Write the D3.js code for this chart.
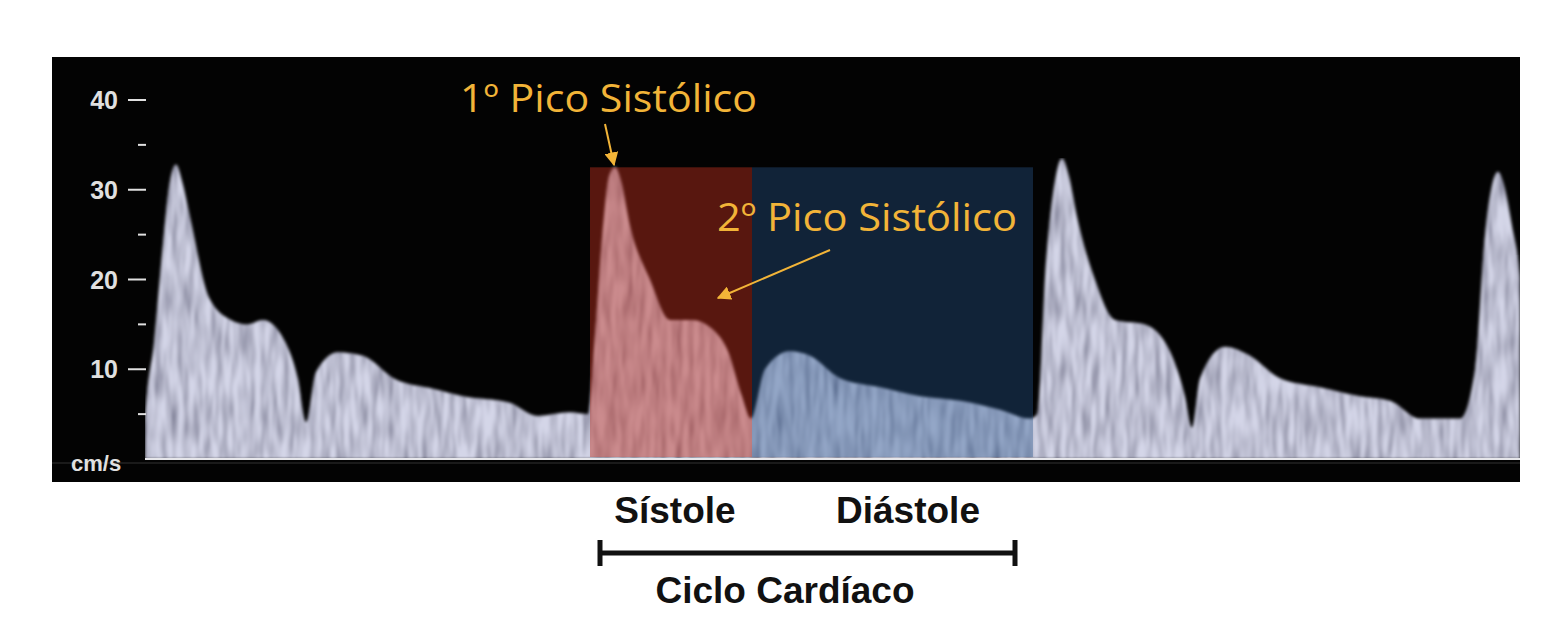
<!DOCTYPE html>
<html><head><meta charset="utf-8">
<script src="https://cdn.jsdelivr.net/npm/d3@7"></script>
<style>
  body { margin: 0; background: #fff; }
  svg { display: block; font-family: "Liberation Sans", Arial, sans-serif; }
</style></head>
<body><svg id="chart" width="1560" height="626"></svg>
<script>
// velocity envelope: [time (px units from panel left), cm/s]
const envelope = [
  [93, 0], [93, 4.4], [102, 13], [111, 24], [118, 31], [124, 32.8], [130, 31], [138, 27], [157, 18], [179, 15.5],
  [195, 15], [211, 15.5], [232, 13.3], [246, 8.9], [254, 4.1], [264, 9.7], [286, 11.9],
  [311, 11.5], [343, 8.9], [382, 7.8], [411, 7], [457, 6.3], [486, 4.8], [518, 5.2],
  [536, 5], [543, 14], [551, 26], [557, 31.5], [563, 32.5], [569, 31], [578, 26], [598, 20], [618, 15.5],
  [640, 15.5], [660, 14.5], [676, 12], [690, 7], [699, 4.5], [713, 10], [738, 12],
  [758, 11.5], [788, 9], [828, 8], [868, 7], [908, 6.5], [948, 5.5], [978, 4.5],
  [985, 5], [994, 22], [1003, 31], [1010, 33.5], [1017, 31.5], [1025, 27], [1043, 20], [1063, 15.5], [1093, 15],
  [1118, 12], [1133, 7], [1140, 3.5], [1148, 9], [1173, 12.5], [1198, 11.5], [1228, 9],
  [1268, 8], [1308, 7], [1338, 6.5], [1368, 4.5], [1408, 4.5], [1423, 10], [1433, 25],
  [1440, 30.5], [1446, 32], [1452, 30.5], [1460, 26], [1468, 20], [1468, 0]
];
const majorTicks = [10, 20, 30, 40];
const minorTicks = [5, 15, 25, 35];
const phases = [
  { name: "Sístole", start: 538, end: 700, color: "#c03020", opacity: 0.45, labelX: 675 },
  { name: "Diástole", start: 700, end: 981, color: "#2a5a90", opacity: 0.38, labelX: 908 }
];
const phaseTop = 32.5;

const svg = d3.select("#chart");
const panel = { left: 52, top: 57, right: 1520, bottom: 482 };

const x = d3.scaleLinear().domain([0, 1468]).range([panel.left, panel.right]);
const y = d3.scaleLinear().domain([0, 40]).range([459, 100]);

const defs = svg.append("defs");
const f = defs.append("filter").attr("id", "speckle")
  .attr("x", 0).attr("y", 0).attr("width", 1).attr("height", 1);
f.append("feTurbulence").attr("type", "fractalNoise")
  .attr("baseFrequency", "0.18 0.025").attr("numOctaves", 2).attr("seed", 4).attr("result", "noise");
f.append("feColorMatrix").attr("in", "noise").attr("type", "matrix")
  .attr("values", "0 0 0 0 0.1  0 0 0 0 0.1  0 0 0 0 0.18  1.4 0 0 0 -0.45")
  .attr("result", "dark");
f.append("feComposite").attr("in", "dark").attr("in2", "SourceGraphic")
  .attr("operator", "in").attr("result", "darkIn");
const merge = f.append("feMerge").attr("result", "m");
merge.append("feMergeNode").attr("in", "SourceGraphic");
merge.append("feMergeNode").attr("in", "darkIn");
f.append("feGaussianBlur").attr("in", "m").attr("stdDeviation", 1.8);

defs.append("clipPath").attr("id", "panelClip").append("rect")
  .attr("x", panel.left).attr("y", panel.top)
  .attr("width", panel.right - panel.left).attr("height", panel.bottom - panel.top);

svg.append("rect")
  .attr("x", panel.left).attr("y", panel.top)
  .attr("width", panel.right - panel.left).attr("height", panel.bottom - panel.top)
  .attr("fill", "#030303");

const g = svg.append("g").attr("clip-path", "url(#panelClip)");

const area = d3.line().x(d => x(d[0])).y(d => y(d[1])).curve(d3.curveMonotoneX);
g.append("path").datum(envelope)
  .attr("d", area)
  .attr("fill", "#d4d6e8")
  .attr("filter", "url(#speckle)");

// baseline
g.append("line").attr("x1", x(93)).attr("x2", panel.right)
  .attr("y1", y(0)).attr("y2", y(0))
  .attr("stroke", "#e6e6ea").attr("stroke-width", 2);
g.append("line").attr("x1", panel.left).attr("x2", panel.right)
  .attr("y1", y(0) + 4).attr("y2", y(0) + 4)
  .attr("stroke", "#333").attr("stroke-width", 1);

// phase overlays
g.selectAll("rect.phase").data(phases).join("rect")
  .attr("class", "phase")
  .attr("x", d => x(d.start)).attr("width", d => x(d.end) - x(d.start))
  .attr("y", y(phaseTop)).attr("height", y(0) - y(phaseTop) - 2)
  .attr("fill", d => d.color).attr("opacity", d => d.opacity);

// axis
const ax = svg.append("g").attr("fill", "#e0e0e0").attr("stroke", "#e0e0e0");
ax.selectAll("line.major").data(majorTicks).join("line")
  .attr("class", "major")
  .attr("x1", 128).attr("x2", 146).attr("y1", d => y(d)).attr("y2", d => y(d))
  .attr("stroke-width", 2);
ax.selectAll("line.minor").data(minorTicks).join("line")
  .attr("class", "minor")
  .attr("x1", 138).attr("x2", 146).attr("y1", d => y(d)).attr("y2", d => y(d))
  .attr("stroke-width", 2);
ax.selectAll("text").data(majorTicks).join("text")
  .attr("x", 118).attr("y", d => y(d) + 9)
  .attr("text-anchor", "end").attr("stroke", "none")
  .attr("font-size", 25).attr("font-weight", "bold")
  .text(d => d);
svg.append("text").attr("x", 71).attr("y", 471).attr("fill", "#e0e0e0")
  .attr("font-size", 22).attr("font-weight", "bold").text("cm/s");

// annotations
const gold = "#f2b438";
const annoFont = "'Open Sans', 'Noto Sans', sans-serif";
defs.append("marker").attr("id", "arr").attr("viewBox", "0 0 10 10")
  .attr("refX", 9).attr("refY", 5).attr("markerWidth", 7).attr("markerHeight", 7)
  .attr("orient", "auto").append("path").attr("d", "M0,0 L10,5 L0,10 z").attr("fill", gold);
svg.append("text").attr("x", 460).attr("y", 112).attr("fill", gold)
  .attr("font-family", annoFont).attr("font-size", 38)
  .attr("textLength", 297).attr("lengthAdjust", "spacingAndGlyphs")
  .text("1º Pico Sistólico");
svg.append("line").attr("x1", 605).attr("y1", 124).attr("x2", 614).attr("y2", 165)
  .attr("stroke", gold).attr("stroke-width", 2).attr("marker-end", "url(#arr)");
svg.append("text").attr("x", 717).attr("y", 231).attr("fill", gold)
  .attr("font-family", annoFont).attr("font-size", 38)
  .attr("textLength", 300).attr("lengthAdjust", "spacingAndGlyphs")
  .text("2º Pico Sistólico");
svg.append("line").attr("x1", 830).attr("y1", 250).attr("x2", 718).attr("y2", 298)
  .attr("stroke", gold).attr("stroke-width", 2).attr("marker-end", "url(#arr)");

// phase labels and cycle bracket
svg.selectAll("text.phase").data(phases).join("text")
  .attr("class", "phase")
  .attr("x", d => d.labelX).attr("y", 523)
  .attr("text-anchor", "middle").attr("font-size", 37).attr("font-weight", "bold")
  .attr("fill", "#111").text(d => d.name);
const br = svg.append("g").attr("stroke", "#111").attr("stroke-width", 5);
br.append("line").attr("x1", 600).attr("x2", 1015).attr("y1", 553).attr("y2", 553);
br.append("line").attr("x1", 600).attr("x2", 600).attr("y1", 540).attr("y2", 566);
br.append("line").attr("x1", 1015).attr("x2", 1015).attr("y1", 540).attr("y2", 566);
svg.append("text").attr("x", 785).attr("y", 603).attr("text-anchor", "middle")
  .attr("font-size", 37).attr("font-weight", "bold").attr("fill", "#111")
  .text("Ciclo Cardíaco");
</script></body></html>
